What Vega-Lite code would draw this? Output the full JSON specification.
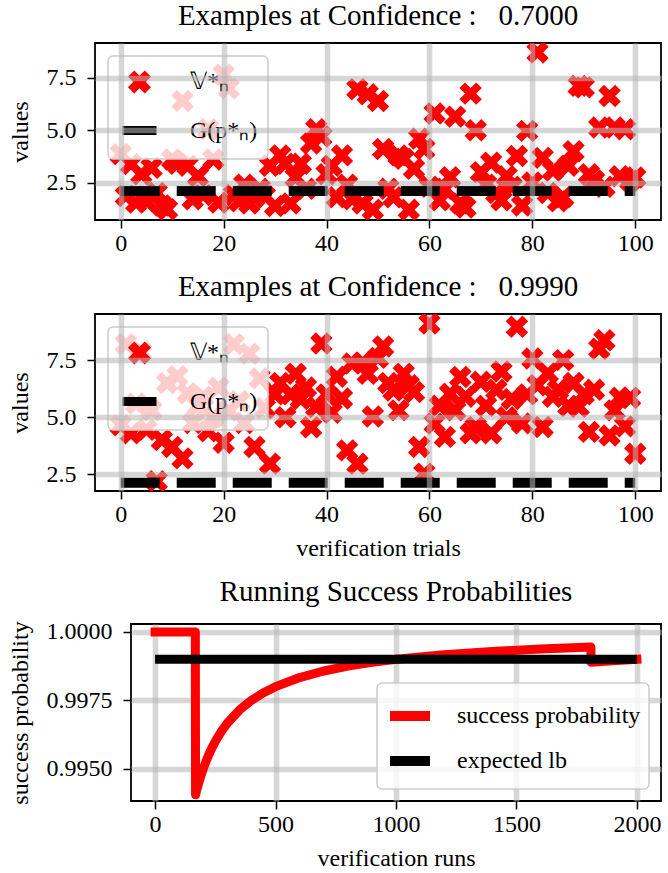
{
  "$schema": "https://vega.github.io/schema/vega-lite/v6.json",
  "padding": {"left": 0, "top": 1, "right": 5, "bottom": 2},
  "background": "white",
  "spacing": 16,
  "resolve": {"scale": {"color": "independent", "shape": "independent", "size": "independent"}, "legend": {"color": "independent", "shape": "independent", "size": "independent"}},
  "datasets": {
    "p1": [
      {"t":0,"v":3.86,"g":2.1},{"t":1,"v":1.86,"g":2.1},{"t":2,"v":3.38,"g":2.1},{"t":3,"v":1.54,"g":2.1},{"t":4,"v":2.9,"g":2.1},
      {"t":5,"v":1.6,"g":2.1},{"t":6,"v":3.2,"g":2.1},{"t":7,"v":2.0,"g":2.1},{"t":8,"v":1.4,"g":2.1},{"t":9,"v":1.22,"g":2.1},
      {"t":10,"v":3.6,"g":2.1},{"t":11,"v":3.4,"g":2.1},{"t":12,"v":6.4,"g":2.1},{"t":13,"v":3.3,"g":2.1},{"t":14,"v":1.7,"g":2.1},
      {"t":15,"v":2.8,"g":2.1},{"t":16,"v":1.9,"g":2.1},{"t":17,"v":5.05,"g":2.1},{"t":18,"v":3.6,"g":2.1},{"t":19,"v":1.54,"g":2.1},
      {"t":20,"v":7.66,"g":2.1},{"t":21,"v":7.0,"g":2.1},{"t":22,"v":1.9,"g":2.1},{"t":23,"v":1.6,"g":2.1},{"t":24,"v":2.4,"g":2.1},
      {"t":25,"v":1.5,"g":2.1},{"t":26,"v":1.8,"g":2.1},{"t":27,"v":2.2,"g":2.1},{"t":28,"v":1.86,"g":2.1},{"t":29,"v":3.3,"g":2.1},
      {"t":30,"v":1.38,"g":2.1},{"t":31,"v":3.8,"g":2.1},{"t":32,"v":3.4,"g":2.1},{"t":33,"v":1.5,"g":2.1},{"t":34,"v":2.75,"g":2.1},
      {"t":35,"v":3.4,"g":2.1},{"t":36,"v":2.2,"g":2.1},{"t":37,"v":4.37,"g":2.1},{"t":38,"v":5.05,"g":2.1},{"t":39,"v":4.7,"g":2.1},
      {"t":40,"v":2.9,"g":2.1},{"t":41,"v":3.3,"g":2.1},{"t":42,"v":1.8,"g":2.1},{"t":43,"v":3.8,"g":2.1},{"t":44,"v":2.4,"g":2.1},
      {"t":45,"v":1.7,"g":2.1},{"t":46,"v":6.96,"g":2.1},{"t":47,"v":1.5,"g":2.1},{"t":48,"v":6.72,"g":2.1},{"t":49,"v":1.2,"g":2.1},
      {"t":50,"v":6.4,"g":2.1},{"t":51,"v":4.1,"g":2.1},{"t":52,"v":2.2,"g":2.1},{"t":53,"v":1.8,"g":2.1},{"t":54,"v":3.8,"g":2.1},
      {"t":55,"v":3.63,"g":2.1},{"t":56,"v":1.2,"g":2.1},{"t":57,"v":3.16,"g":2.1},{"t":58,"v":4.6,"g":2.1},{"t":59,"v":4.1,"g":2.1},
      {"t":60,"v":2.3,"g":2.1},{"t":61,"v":5.8,"g":2.1},{"t":62,"v":1.65,"g":2.1},{"t":63,"v":2.2,"g":2.1},{"t":64,"v":2.75,"g":2.1},
      {"t":65,"v":5.65,"g":2.1},{"t":66,"v":1.5,"g":2.1},{"t":67,"v":1.3,"g":2.1},{"t":68,"v":6.75,"g":2.1},{"t":69,"v":5.0,"g":2.1},
      {"t":70,"v":3.0,"g":2.1},{"t":71,"v":2.4,"g":2.1},{"t":72,"v":3.45,"g":2.1},{"t":73,"v":2.0,"g":2.1},{"t":74,"v":1.65,"g":2.1},
      {"t":75,"v":2.8,"g":2.1},{"t":76,"v":2.3,"g":2.1},{"t":77,"v":3.77,"g":2.1},{"t":78,"v":1.4,"g":2.1},{"t":79,"v":4.97,"g":2.1},
      {"t":80,"v":2.5,"g":2.1},{"t":81,"v":8.72,"g":2.1},{"t":82,"v":3.68,"g":2.1},{"t":83,"v":2.0,"g":2.1},{"t":84,"v":3.07,"g":2.1},
      {"t":85,"v":1.6,"g":2.1},{"t":86,"v":1.8,"g":2.1},{"t":87,"v":3.3,"g":2.1},{"t":88,"v":4.0,"g":2.1},{"t":89,"v":7.12,"g":2.1},
      {"t":90,"v":7.05,"g":2.1},{"t":91,"v":2.9,"g":2.1},{"t":92,"v":2.6,"g":2.1},{"t":93,"v":5.13,"g":2.1},{"t":94,"v":2.3,"g":2.1},
      {"t":95,"v":6.64,"g":2.1},{"t":96,"v":5.13,"g":2.1},{"t":97,"v":2.8,"g":2.1},{"t":98,"v":5.05,"g":2.1},{"t":99,"v":2.6,"g":2.1},
      {"t":100,"v":2.74,"g":2.1}
    ],
    "p2": [
      {"t":0,"v":4.65,"g":2.13},{"t":1,"v":8.2,"g":2.13},{"t":2,"v":4.3,"g":2.13},{"t":3,"v":5.6,"g":2.13},{"t":4,"v":7.86,"g":2.13},
      {"t":5,"v":4.45,"g":2.13},{"t":6,"v":5.3,"g":2.13},{"t":7,"v":2.2,"g":2.13},{"t":8,"v":4.0,"g":2.13},{"t":9,"v":6.5,"g":2.13},
      {"t":10,"v":3.7,"g":2.13},{"t":11,"v":6.8,"g":2.13},{"t":12,"v":3.2,"g":2.13},{"t":13,"v":6.05,"g":2.13},{"t":14,"v":4.75,"g":2.13},
      {"t":15,"v":5.5,"g":2.13},{"t":16,"v":5.9,"g":2.13},{"t":17,"v":4.39,"g":2.13},{"t":18,"v":5.0,"g":2.13},{"t":19,"v":6.3,"g":2.13},
      {"t":20,"v":3.88,"g":2.13},{"t":21,"v":5.3,"g":2.13},{"t":22,"v":8.2,"g":2.13},{"t":23,"v":5.7,"g":2.13},{"t":24,"v":4.75,"g":2.13},
      {"t":25,"v":7.78,"g":2.13},{"t":26,"v":3.7,"g":2.13},{"t":27,"v":6.7,"g":2.13},{"t":28,"v":5.4,"g":2.13},{"t":29,"v":2.97,"g":2.13},
      {"t":30,"v":6.0,"g":2.13},{"t":31,"v":6.5,"g":2.13},{"t":32,"v":5.0,"g":2.13},{"t":33,"v":6.0,"g":2.13},{"t":34,"v":6.9,"g":2.13},
      {"t":35,"v":5.8,"g":2.13},{"t":36,"v":6.3,"g":2.13},{"t":37,"v":4.56,"g":2.13},{"t":38,"v":5.45,"g":2.13},{"t":39,"v":8.23,"g":2.13},
      {"t":40,"v":6.0,"g":2.13},{"t":41,"v":5.2,"g":2.13},{"t":42,"v":6.77,"g":2.13},{"t":43,"v":5.82,"g":2.13},{"t":44,"v":3.55,"g":2.13},
      {"t":45,"v":7.35,"g":2.13},{"t":46,"v":2.96,"g":2.13},{"t":47,"v":7.4,"g":2.13},{"t":48,"v":6.9,"g":2.13},{"t":49,"v":5.03,"g":2.13},
      {"t":50,"v":7.6,"g":2.13},{"t":51,"v":8.1,"g":2.13},{"t":52,"v":6.5,"g":2.13},{"t":53,"v":6.17,"g":2.13},{"t":54,"v":5.3,"g":2.13},
      {"t":55,"v":6.9,"g":2.13},{"t":56,"v":6.4,"g":2.13},{"t":57,"v":6.1,"g":2.13},{"t":58,"v":3.7,"g":2.13},{"t":59,"v":2.53,"g":2.13},
      {"t":60,"v":9.1,"g":2.13},{"t":61,"v":4.72,"g":2.13},{"t":62,"v":5.5,"g":2.13},{"t":63,"v":4.14,"g":2.13},{"t":64,"v":6.03,"g":2.13},
      {"t":65,"v":5.3,"g":2.13},{"t":66,"v":6.76,"g":2.13},{"t":67,"v":5.9,"g":2.13},{"t":68,"v":4.3,"g":2.13},{"t":69,"v":4.57,"g":2.13},
      {"t":70,"v":6.55,"g":2.13},{"t":71,"v":5.5,"g":2.13},{"t":72,"v":4.3,"g":2.13},{"t":73,"v":6.2,"g":2.13},{"t":74,"v":7.0,"g":2.13},
      {"t":75,"v":5.0,"g":2.13},{"t":76,"v":5.8,"g":2.13},{"t":77,"v":8.96,"g":2.13},{"t":78,"v":4.73,"g":2.13},{"t":79,"v":6.0,"g":2.13},
      {"t":80,"v":7.57,"g":2.13},{"t":81,"v":6.4,"g":2.13},{"t":82,"v":4.57,"g":2.13},{"t":83,"v":6.92,"g":2.13},{"t":84,"v":5.9,"g":2.13},
      {"t":85,"v":6.2,"g":2.13},{"t":86,"v":7.5,"g":2.13},{"t":87,"v":5.5,"g":2.13},{"t":88,"v":6.5,"g":2.13},{"t":89,"v":5.46,"g":2.13},
      {"t":90,"v":6.0,"g":2.13},{"t":91,"v":4.36,"g":2.13},{"t":92,"v":6.2,"g":2.13},{"t":93,"v":8.0,"g":2.13},{"t":94,"v":8.37,"g":2.13},
      {"t":95,"v":4.2,"g":2.13},{"t":96,"v":5.3,"g":2.13},{"t":97,"v":5.85,"g":2.13},{"t":98,"v":4.6,"g":2.13},{"t":99,"v":5.85,"g":2.13},
      {"t":100,"v":3.4,"g":2.13}
    ],
    "runs": [
      {"n":0,"p":1.0},{"n":167,"p":1.0},{"n":168,"p":0.994048},{"n":172,"p":0.994186},{"n":176,"p":0.994318},
      {"n":180,"p":0.994444},{"n":190,"p":0.994737},{"n":200,"p":0.995},{"n":215,"p":0.995349},{"n":230,"p":0.995652},
      {"n":250,"p":0.996},{"n":275,"p":0.996364},{"n":300,"p":0.996667},{"n":350,"p":0.997143},{"n":400,"p":0.9975},
      {"n":450,"p":0.997778},{"n":500,"p":0.998},{"n":600,"p":0.998333},{"n":700,"p":0.998571},{"n":800,"p":0.99875},
      {"n":900,"p":0.998889},{"n":1000,"p":0.999},{"n":1200,"p":0.999167},{"n":1400,"p":0.999286},{"n":1600,"p":0.999375},
      {"n":1809,"p":0.999447},{"n":1810,"p":0.998895},{"n":1900,"p":0.998947},{"n":2000,"p":0.999}
    ],
    "lb": [{"n":0,"p":0.999},{"n":2000,"p":0.999}],
    "blank": [{"k": 0}]
  },
  "vconcat": [
    {
      "spacing": 0,
      "resolve": {"scale": {"color": "independent", "shape": "independent", "size": "independent"}, "legend": {"color": "independent", "shape": "independent", "size": "independent"}},
      "hconcat": [
        {"width": 1, "height": 1, "view": {"stroke": null}, "data": {"name": "blank"}, "mark": {"type": "point", "opacity": 0}, "encoding": {}},
        {
          "width": 566, "height": 177,
          "title": {"text": "Examples at Confidence\u00a0:\u00a0\u00a0\u00a00.7000", "offset": 12},
          "data": {"name": "p1"},
          "layer": [
            {
              "mark": {"type": "point", "filled": false, "clip": true, "opacity": 1, "strokeWidth": 8, "strokeCap": "butt"},
              "encoding": {
                "x": {"field": "t", "type": "quantitative", "scale": {"domain": [-5, 105], "nice": false, "zero": false},
                      "axis": {"values": [0,20,40,60,80,100], "title": null, "zindex": 1, "labelPadding": 3}},
                "y": {"field": "v", "type": "quantitative", "scale": {"domain": [0.71, 9.17], "nice": false, "zero": false},
                      "axis": {"values": [2.5,5,7.5], "format": ".1f", "title": "values", "zindex": 1}},
                "color": {"datum": "𝕍*ₙ", "type": "nominal",
                  "scale": {"domain": ["𝕍*ₙ", "G(p*ₙ)"], "range": ["#ff0000", "#000000"]},
                  "legend": {"orient": "top-left", "offset": 13, "title": null, "padding": 10, "rowPadding": -5, "labelOffset": 29, "symbolStrokeWidth": 9}},
                "shape": {"datum": "𝕍*ₙ", "type": "nominal",
                  "scale": {"domain": ["𝕍*ₙ", "G(p*ₙ)"], "range": ["M-0.75,-0.75L0.75,0.75M-0.75,0.75L0.75,-0.75", "stroke"]},
                  "legend": {"orient": "top-left", "offset": 13, "title": null, "padding": 10, "rowPadding": -5, "labelOffset": 29, "symbolStrokeWidth": 9}},
                "size": {"datum": "𝕍*ₙ", "type": "nominal",
                  "scale": {"type": "ordinal", "domain": ["𝕍*ₙ", "G(p*ₙ)"], "range": [500, 1156]},
                  "legend": {"orient": "top-left", "offset": 13, "title": null, "padding": 10, "rowPadding": -5, "labelOffset": 29, "symbolStrokeWidth": 9}}
              }
            },
            {
              "mark": {"type": "line", "clip": true, "strokeWidth": 10, "strokeDash": [39, 17], "strokeCap": "butt"},
              "encoding": {
                "x": {"field": "t", "type": "quantitative"},
                "y": {"field": "g", "type": "quantitative"},
                "color": {"datum": "G(p*ₙ)", "type": "nominal"}
              }
            }
          ]
        }
      ]
    },
    {
      "spacing": 0,
      "resolve": {"scale": {"color": "independent", "shape": "independent", "size": "independent"}, "legend": {"color": "independent", "shape": "independent", "size": "independent"}},
      "hconcat": [
        {"width": 1, "height": 1, "view": {"stroke": null}, "data": {"name": "blank"}, "mark": {"type": "point", "opacity": 0}, "encoding": {}},
        {
          "width": 566, "height": 177,
          "title": {"text": "Examples at Confidence\u00a0:\u00a0\u00a0\u00a00.9990", "offset": 12},
          "data": {"name": "p2"},
          "layer": [
            {
              "mark": {"type": "point", "filled": false, "clip": true, "opacity": 1, "strokeWidth": 8, "strokeCap": "butt"},
              "encoding": {
                "x": {"field": "t", "type": "quantitative", "scale": {"domain": [-5, 105], "nice": false, "zero": false},
                      "axis": {"values": [0,20,40,60,80,100], "title": "verification trials", "zindex": 1, "labelPadding": 3}},
                "y": {"field": "v", "type": "quantitative", "scale": {"domain": [1.77, 9.52], "nice": false, "zero": false},
                      "axis": {"values": [2.5,5,7.5], "format": ".1f", "title": "values", "zindex": 1}},
                "color": {"datum": "𝕍*ₙ", "type": "nominal",
                  "scale": {"domain": ["𝕍*ₙ", "G(p*ₙ)"], "range": ["#ff0000", "#000000"]},
                  "legend": {"orient": "top-left", "offset": 13, "title": null, "padding": 10, "rowPadding": -5, "labelOffset": 29, "symbolStrokeWidth": 9}},
                "shape": {"datum": "𝕍*ₙ", "type": "nominal",
                  "scale": {"domain": ["𝕍*ₙ", "G(p*ₙ)"], "range": ["M-0.75,-0.75L0.75,0.75M-0.75,0.75L0.75,-0.75", "stroke"]},
                  "legend": {"orient": "top-left", "offset": 13, "title": null, "padding": 10, "rowPadding": -5, "labelOffset": 29, "symbolStrokeWidth": 9}},
                "size": {"datum": "𝕍*ₙ", "type": "nominal",
                  "scale": {"type": "ordinal", "domain": ["𝕍*ₙ", "G(p*ₙ)"], "range": [500, 1156]},
                  "legend": {"orient": "top-left", "offset": 13, "title": null, "padding": 10, "rowPadding": -5, "labelOffset": 29, "symbolStrokeWidth": 9}}
              }
            },
            {
              "mark": {"type": "line", "clip": true, "strokeWidth": 10, "strokeDash": [39, 17], "strokeCap": "butt"},
              "encoding": {
                "x": {"field": "t", "type": "quantitative"},
                "y": {"field": "g", "type": "quantitative"},
                "color": {"datum": "G(p*ₙ)", "type": "nominal"}
              }
            }
          ]
        }
      ]
    },
    {
      "spacing": 0,
      "resolve": {"scale": {"color": "independent"}, "legend": {"color": "independent"}},
      "hconcat": [
        {"width": 1, "height": 1, "view": {"stroke": null}, "data": {"name": "blank"}, "mark": {"type": "point", "opacity": 0}, "encoding": {}},
        {
          "width": 530, "height": 177,
          "title": {"text": "Running Success Probabilities", "offset": 13},
          "layer": [
            {
              "data": {"name": "runs"},
              "mark": {"type": "line", "strokeWidth": 9, "strokeCap": "square", "strokeJoin": "round", "clip": true},
              "encoding": {
                "x": {"field": "n", "type": "quantitative", "scale": {"domain": [-100, 2100], "nice": false, "zero": false},
                      "axis": {"values": [0,500,1000,1500,2000], "title": "verification runs", "format": "d", "labelPadding": 3}},
                "y": {"field": "p", "type": "quantitative", "scale": {"domain": [0.99382, 1.00029], "nice": false, "zero": false},
                      "axis": {"values": [0.995, 0.9975, 1.0], "format": ".4f", "title": "success probability"}},
                "color": {"datum": "success probability", "type": "nominal",
                  "scale": {"domain": ["success probability", "expected lb"], "range": ["#ff0000", "#000000"]},
                  "legend": {"orient": "bottom-right", "offset": 12, "title": null, "symbolType": "stroke",
                             "symbolSize": 1600, "symbolStrokeWidth": 10, "padding": 8, "rowPadding": 0,
                             "labelOffset": 22}}
              }
            },
            {
              "data": {"name": "lb"},
              "mark": {"type": "line", "strokeWidth": 9, "strokeCap": "butt", "clip": true},
              "encoding": {
                "x": {"field": "n", "type": "quantitative"},
                "y": {"field": "p", "type": "quantitative"},
                "color": {"datum": "expected lb", "type": "nominal"}
              }
            }
          ]
        }
      ]
    }
  ],
  "config": {
    "font": "Liberation Serif",
    "view": {"stroke": "black", "strokeWidth": 1.8},
    "axis": {
      "labelFont": "Liberation Serif", "titleFont": "Liberation Serif",
      "labelFontSize": 24, "titleFontSize": 24, "titleFontWeight": "normal",
      "labelColor": "black", "titleColor": "black",
      "tickColor": "black", "tickSize": 8, "tickWidth": 1.5,
      "domain": false, "grid": true, "gridColor": "#b6b6b6", "gridOpacity": 0.56, "gridWidth": 5.5,
      "labelPadding": 11, "titlePadding": 14
    },
    "axisX": {"titlePadding": 10},
    "title": {"font": "Liberation Serif", "fontSize": 29, "fontWeight": "normal", "color": "black"},
    "legend": {
      "labelFont": "Liberation Serif", "labelFontSize": 24, "labelColor": "black",
      "cornerRadius": 5,
      "fillColor": "rgba(255,255,255,0.8)", "strokeColor": "#cccccc", "strokeWidth": 1.5,
      "labelLimit": 400
    }
  }
}
